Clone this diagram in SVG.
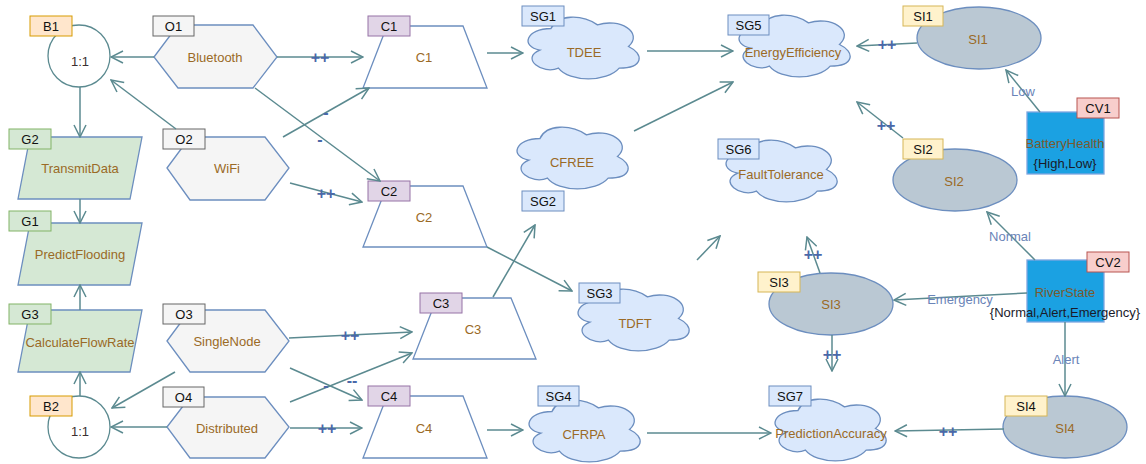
<svg xmlns="http://www.w3.org/2000/svg" width="1146" height="464" viewBox="0 0 1146 464">
<style>
text{font-family:"Liberation Sans",Arial,sans-serif;font-size:13px;text-anchor:middle}
.lbl{fill:#9a6a26}
.tagt{fill:#111}
.tag-b{fill:#ffe6cc;stroke:#d79b00;stroke-width:1}
.tag-o{fill:#f5f5f5;stroke:#666;stroke-width:1}
.tag-g{fill:#d5e8d4;stroke:#82b366;stroke-width:1}
.tag-c{fill:#e1d5e7;stroke:#9673a6;stroke-width:1}
.tag-sg{fill:#dae8fc;stroke:#6c8ebf;stroke-width:1}
.tag-si{fill:#fff2cc;stroke:#d6b656;stroke-width:1}
.tag-cv{fill:#f8cecc;stroke:#b85450;stroke-width:1}
.circ{fill:#fff;stroke:#5b8a90;stroke-width:1.3}
.hex{fill:#f5f5f5;stroke:#6c8ebf;stroke-width:1.3}
.para{fill:#d5e8d4;stroke:#6c8ebf;stroke-width:1.3}
.trap{fill:#fff;stroke:#6c8ebf;stroke-width:1.3}
.cloud{fill:#dae8fc;stroke:#6c8ebf;stroke-width:1.3}
.ell{fill:#bac8d3;stroke:#6c8ebf;stroke-width:1.3}
.cv{fill:#1ba1e2;stroke:#7ea6e0;stroke-width:1.3}
.edge{fill:none;stroke:#5b8a90;stroke-width:1.5;marker-end:url(#arr)}
.pp{fill:#4a68a8;font-size:16px;font-weight:bold}
.el{fill:#6a84b8}
</style>
<defs>
<marker id="arr" viewBox="0 0 14 14" refX="13" refY="7" markerWidth="14" markerHeight="14" markerUnits="userSpaceOnUse" orient="auto">
<path d="M1,1 L13,7 L1,13" fill="none" stroke="#5b8a90" stroke-width="1.5"/>
</marker>
<path id="cloud" class="cloud" d="M24,11.5 C-0.8,11.5 -7,29.5 12.84,33.1 C-7,41.02 15.32,58.3 31.44,51.1 C42.6,65.5 79.8,65.5 92.2,51.1 C117,51.1 117,36.7 101.5,29.5 C117,15.1 92.2,0.7 70.5,7.9 C55,-2.9 30.2,-2.9 24,11.5 Z"/>
</defs>

<g id="B1">
<circle class="circ" cx="79" cy="56" r="31"/>
<text x="80" y="66" fill="#3b2f2f">1:1</text>
<rect class="tag-b" x="30" y="16" width="42" height="20"/><text class="tagt" x="51" y="30.5">B1</text>
</g>
<g id="B2">
<circle class="circ" cx="79" cy="427" r="31"/>
<text x="80" y="436" fill="#3b2f2f">1:1</text>
<rect class="tag-b" x="30" y="396" width="42" height="20"/><text class="tagt" x="51" y="410.5">B2</text>
</g>
<g id="G2">
<polygon class="para" points="30,137 142,137 130,199 18,199"/>
<text class="lbl" x="80" y="172.5">TransmitData</text>
<rect class="tag-g" x="9" y="129" width="42" height="20"/><text class="tagt" x="30" y="143.5">G2</text>
</g>
<g id="G1">
<polygon class="para" points="30,223 142,223 130,285 18,285"/>
<text class="lbl" x="80" y="258.5">PredictFlooding</text>
<rect class="tag-g" x="9" y="211" width="42" height="20"/><text class="tagt" x="30" y="225.5">G1</text>
</g>
<g id="G3">
<polygon class="para" points="30,310 142,310 130,372 18,372"/>
<text class="lbl" x="80" y="346.5">CalculateFlowRate</text>
<rect class="tag-g" x="9" y="304" width="42" height="20"/><text class="tagt" x="30" y="318.5">G3</text>
</g>
<g id="O1">
<polygon class="hex" points="154,57 178,25 253,25 277,57 253,88 178,88"/>
<text class="lbl" x="215" y="61.5">Bluetooth</text>
<rect class="tag-o" x="153" y="16" width="41" height="20"/><text class="tagt" x="173.5" y="30.5">O1</text>
</g>
<g id="O2">
<polygon class="hex" points="167,168 190,137 265,137 289,168 265,200 190,200"/>
<text class="lbl" x="227" y="172.5">WiFi</text>
<rect class="tag-o" x="163" y="129" width="42" height="20"/><text class="tagt" x="184" y="143.5">O2</text>
</g>
<g id="O3">
<polygon class="hex" points="167,341 190,310 265,310 289,341 265,372 190,372"/>
<text class="lbl" x="227" y="345.5">SingleNode</text>
<rect class="tag-o" x="163" y="304" width="42" height="20"/><text class="tagt" x="184" y="318.5">O3</text>
</g>
<g id="O4">
<polygon class="hex" points="167,427 190,397 265,397 289,427 265,458 190,458"/>
<text class="lbl" x="227" y="432.5">Distributed</text>
<rect class="tag-o" x="163" y="387" width="41" height="20"/><text class="tagt" x="183.5" y="401.5">O4</text>
</g>
<g id="C1">
<polygon class="trap" points="387,26 463,26 487,88 363,88"/>
<text class="lbl" x="424" y="61.5">C1</text>
<rect class="tag-c" x="368" y="16" width="42" height="20"/><text class="tagt" x="389" y="30.5">C1</text>
</g>
<g id="C2">
<polygon class="trap" points="387,186 463,186 487,247 363,247"/>
<text class="lbl" x="424" y="221.5">C2</text>
<rect class="tag-c" x="368" y="181" width="42" height="20"/><text class="tagt" x="389" y="195.5">C2</text>
</g>
<g id="C3">
<polygon class="trap" points="437,298 511,298 536,359 413,359"/>
<text class="lbl" x="473" y="333.5">C3</text>
<rect class="tag-c" x="420" y="293" width="42" height="20"/><text class="tagt" x="441" y="307.5">C3</text>
</g>
<g id="C4">
<polygon class="trap" points="387,396 463,396 487,458 363,458"/>
<text class="lbl" x="424" y="432.5">C4</text>
<rect class="tag-c" x="368" y="386" width="42" height="20"/><text class="tagt" x="389" y="400.5">C4</text>
</g>
<g id="SG1">
<use href="#cloud" x="527" y="17"/>
<text class="lbl" x="584" y="56.5">TDEE</text>
<rect class="tag-sg" x="522" y="6" width="42" height="20"/><text class="tagt" x="543" y="20.5">SG1</text>
</g>
<g id="SG2">
<use href="#cloud" x="516" y="127"/>
<text class="lbl" x="572" y="166.5">CFREE</text>
<rect class="tag-sg" x="522" y="191" width="42" height="20"/><text class="tagt" x="543" y="205.5">SG2</text>
</g>
<g id="SG3">
<use href="#cloud" x="577" y="289"/>
<text class="lbl" x="635" y="327.5">TDFT</text>
<rect class="tag-sg" x="579" y="283" width="41" height="20"/><text class="tagt" x="599.5" y="297.5">SG3</text>
</g>
<g id="SG4">
<use href="#cloud" x="528" y="400"/>
<text class="lbl" x="584" y="438.5">CFRPA</text>
<rect class="tag-sg" x="538" y="386" width="41" height="20"/><text class="tagt" x="558.5" y="400.5">SG4</text>
</g>
<g id="SG5">
<use href="#cloud" x="738" y="15"/>
<text class="lbl" x="793" y="56.5">EnergyEfficiency</text>
<rect class="tag-sg" x="728" y="15" width="41" height="20"/><text class="tagt" x="748.5" y="29.5">SG5</text>
</g>
<g id="SG6">
<use href="#cloud" x="725" y="140"/>
<text class="lbl" x="781" y="178.5">FaultTolerance</text>
<rect class="tag-sg" x="718" y="139" width="41" height="20"/><text class="tagt" x="738.5" y="153.5">SG6</text>
</g>
<g id="SG7">
<use href="#cloud" x="774" y="399"/>
<text class="lbl" x="831" y="437.5">PredictionAccuracy</text>
<rect class="tag-sg" x="769" y="386" width="42" height="20"/><text class="tagt" x="790" y="400.5">SG7</text>
</g>
<g id="SI1">
<ellipse class="ell" cx="979" cy="38" rx="62" ry="31"/>
<text class="lbl" x="978" y="43.5">SI1</text>
<rect class="tag-si" x="903" y="6" width="40" height="20"/><text class="tagt" x="923" y="20.5">SI1</text>
</g>
<g id="SI2">
<ellipse class="ell" cx="955" cy="180" rx="62" ry="31"/>
<text class="lbl" x="954" y="185.5">SI2</text>
<rect class="tag-si" x="903" y="139" width="40" height="20"/><text class="tagt" x="923" y="153.5">SI2</text>
</g>
<g id="SI3">
<ellipse class="ell" cx="831" cy="304" rx="62" ry="31"/>
<text class="lbl" x="831" y="308.5">SI3</text>
<rect class="tag-si" x="758" y="272" width="42" height="20"/><text class="tagt" x="779" y="286.5">SI3</text>
</g>
<g id="SI4">
<ellipse class="ell" cx="1065" cy="427" rx="62" ry="31"/>
<text class="lbl" x="1065" y="432.5">SI4</text>
<rect class="tag-si" x="1005" y="396" width="42" height="20"/><text class="tagt" x="1026" y="410.5">SI4</text>
</g>
<g id="CV1">
<rect class="cv" x="1027" y="112" width="77" height="62"/>
<text x="1065" y="147.5" fill="#7a5a2e">BatteryHealth</text>
<text x="1065" y="167.5" fill="#1a1a2a">{High,Low}</text>
<rect class="tag-cv" x="1077" y="98" width="42" height="20"/><text class="tagt" x="1098" y="112.5">CV1</text>
</g>
<g id="CV2">
<rect class="cv" x="1027" y="260" width="77" height="62"/>
<text x="1065" y="296.5" fill="#7a5a2e">RiverState</text>
<text x="1065" y="316.5" fill="#1a1a2a">{Normal,Alert,Emergency}</text>
<rect class="tag-cv" x="1087" y="252" width="42" height="20"/><text class="tagt" x="1108" y="266.5">CV2</text>
</g>

<g id="connectors">
<line class="edge" x1="80" y1="87" x2="80" y2="137"/>
<line class="edge" x1="80" y1="199" x2="80" y2="223"/>
<line class="edge" x1="80" y1="310" x2="80" y2="285"/>
<line class="edge" x1="80" y1="396" x2="80" y2="372"/>
<line class="edge" x1="154" y1="57" x2="111" y2="57"/>
<line class="edge" x1="176" y1="129" x2="111" y2="80"/>
<line class="edge" x1="175" y1="372" x2="112" y2="408"/>
<line class="edge" x1="167" y1="427" x2="111" y2="427"/>
<line class="edge" x1="277" y1="57" x2="363" y2="57"/>
<line class="edge" x1="255" y1="88" x2="380" y2="181"/>
<line class="edge" x1="283" y1="137" x2="369" y2="88"/>
<line class="edge" x1="290" y1="183" x2="362" y2="202"/>
<line class="edge" x1="289" y1="338" x2="412" y2="332"/>
<line class="edge" x1="290" y1="368" x2="362" y2="400"/>
<line class="edge" x1="290" y1="402" x2="412" y2="353"/>
<line class="edge" x1="290" y1="428" x2="362" y2="428"/>
<line class="edge" x1="487" y1="53" x2="523" y2="53"/>
<line class="edge" x1="487" y1="247" x2="572" y2="291"/>
<line class="edge" x1="493" y1="297" x2="535" y2="225"/>
<line class="edge" x1="487" y1="430" x2="523" y2="430"/>
<line class="edge" x1="647" y1="51" x2="733" y2="51"/>
<line class="edge" x1="634" y1="131" x2="733" y2="82"/>
<line class="edge" x1="697" y1="260" x2="720" y2="236"/>
<line class="edge" x1="647" y1="433" x2="771" y2="433"/>
<line class="edge" x1="917" y1="43" x2="857" y2="46"/>
<line class="edge" x1="903" y1="138" x2="857" y2="102"/>
<line class="edge" x1="820" y1="273" x2="807" y2="237"/>
<line class="edge" x1="832" y1="335" x2="832" y2="371"/>
<line class="edge" x1="1004" y1="429" x2="895" y2="431"/>
<line class="edge" x1="1040" y1="112" x2="1006" y2="70"/>
<line class="edge" x1="1035" y1="260" x2="987" y2="212"/>
<line class="edge" x1="1027" y1="293" x2="894" y2="300"/>
<line class="edge" x1="1065" y1="322" x2="1065" y2="396"/>
<text class="pp" x="320" y="63">++</text>
<text class="pp" x="326" y="118">-</text>
<text class="pp" x="320" y="145">-</text>
<text class="pp" x="326" y="199">++</text>
<text class="pp" x="350" y="341">++</text>
<text class="pp" x="352" y="386">--</text>
<text class="pp" x="326" y="391">-</text>
<text class="pp" x="327" y="434">++</text>
<text class="pp" x="887" y="50">++</text>
<text class="pp" x="886" y="131">++</text>
<text class="pp" x="813" y="260">++</text>
<text class="pp" x="832" y="360">++</text>
<text class="pp" x="948" y="437">++</text>
<text class="el" x="1023" y="96">Low</text>
<text class="el" x="1010" y="240.5">Normal</text>
<text class="el" x="960" y="303.5">Emergency</text>
<text class="el" x="1066" y="363.5">Alert</text>
</g>
</svg>
